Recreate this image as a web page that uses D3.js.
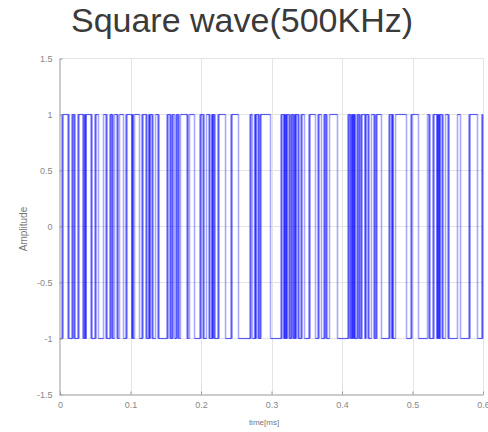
<!DOCTYPE html>
<html><head><meta charset="utf-8">
<script src="https://cdn.jsdelivr.net/npm/d3@7"></script>
<style>body{margin:0;background:#fff} svg{display:block}</style>
</head><body><svg id="c" width="488" height="432"></svg>
<script>
const title = "Square wave(500KHz)";
const xLabel = "time[ms]";
const yLabel = "Amplitude";
const xDomain = [0, 0.6];
const yDomain = [-1.5, 1.5];
const xTicks = [0, 0.1, 0.2, 0.3, 0.4, 0.5, 0.6];
const xTickLabels = ["0", "0.1", "0.2", "0.3", "0.4", "0.5", "0.6"];
const yTicks = [-1.5, -1, -0.5, 0, 0.5, 1, 1.5];
const yTickLabels = ["-1.5", "-1", "-0.5", "0", "0.5", "1", "1.5"];
const levels = [-1, 1];
const startLevel = -1;
// transition times (ms); each one flips the level
const edgeTimes = [
  0.0029, 0.0036, 0.0043, 0.0114, 0.0121, 0.0128, 0.0170, 0.0177, 0.0184,
  0.0199, 0.0206, 0.0213, 0.0255, 0.0262, 0.0269, 0.0326, 0.0333, 0.0340,
  0.0352, 0.0357, 0.0362, 0.0367, 0.0372, 0.0440, 0.0447, 0.0454,
  0.0497, 0.0504, 0.0511, 0.0546, 0.0617, 0.0653, 0.0660, 0.0667,
  0.0709, 0.0716, 0.0723, 0.0738, 0.0745, 0.0752, 0.0773, 0.0809, 0.0816, 0.0823,
  0.0844, 0.0901, 0.0936, 0.0943, 0.0950, 0.1018, 0.1023, 0.1028, 0.1033, 0.1038,
  0.1057, 0.1128, 0.1163, 0.1170, 0.1177, 0.1220, 0.1227, 0.1234,
  0.1260, 0.1265, 0.1270, 0.1275, 0.1280, 0.1305, 0.1312, 0.1319, 0.1355,
  0.1390, 0.1397, 0.1404, 0.1518, 0.1525, 0.1532, 0.1560, 0.1567, 0.1574,
  0.1589, 0.1596, 0.1603, 0.1624, 0.1646, 0.1653, 0.1660, 0.1674, 0.1681, 0.1688,
  0.1709, 0.1802, 0.1809, 0.1816, 0.1837, 0.1908, 0.1986, 0.1993, 0.2000,
  0.2029, 0.2036, 0.2043, 0.2078, 0.2114, 0.2121, 0.2128,
  0.2153, 0.2158, 0.2163, 0.2168, 0.2173, 0.2185, 0.2192, 0.2199,
  0.2241, 0.2248, 0.2255, 0.2348, 0.2426, 0.2433, 0.2440, 0.2532,
  0.2695, 0.2702, 0.2709, 0.2730, 0.2763, 0.2768, 0.2773, 0.2778, 0.2783,
  0.2809, 0.2816, 0.2823, 0.2837, 0.2844, 0.2851, 0.2986, 0.3135, 0.3142, 0.3149,
  0.3174, 0.3179, 0.3184, 0.3189, 0.3194, 0.3203, 0.3208, 0.3213, 0.3218, 0.3223,
  0.3248, 0.3255, 0.3262, 0.3277, 0.3284, 0.3291, 0.3305, 0.3312, 0.3319,
  0.3330, 0.3335, 0.3340, 0.3345, 0.3350, 0.3376, 0.3383, 0.3390,
  0.3419, 0.3426, 0.3433, 0.3468, 0.3532, 0.3539, 0.3546, 0.3624,
  0.3660, 0.3667, 0.3674, 0.3709, 0.3745, 0.3752, 0.3759, 0.3773, 0.3780, 0.3787,
  0.3823, 0.3936, 0.4085, 0.4092, 0.4099, 0.4114, 0.4121, 0.4128,
  0.4139, 0.4144, 0.4149, 0.4154, 0.4159, 0.4167, 0.4172, 0.4177, 0.4182, 0.4187,
  0.4213, 0.4220, 0.4227, 0.4241, 0.4248, 0.4255, 0.4270, 0.4277, 0.4284,
  0.4325, 0.4330, 0.4336, 0.4341, 0.4369, 0.4376, 0.4383, 0.4418,
  0.4454, 0.4461, 0.4468, 0.4482, 0.4489, 0.4496, 0.4560, 0.4667, 0.4674, 0.4681,
  0.4706, 0.4711, 0.4716, 0.4721, 0.4726, 0.4759, 0.4915, 0.4979, 0.4986, 0.4993,
  0.5085, 0.5213, 0.5234, 0.5241, 0.5248, 0.5291, 0.5298, 0.5305,
  0.5345, 0.5350, 0.5355, 0.5360, 0.5365, 0.5373, 0.5378, 0.5383, 0.5388, 0.5393,
  0.5419, 0.5426, 0.5433, 0.5468, 0.5504, 0.5511, 0.5518, 0.5638, 0.5681,
  0.5802, 0.5809, 0.5816, 0.5922, 0.5985, 0.5991, 0.5997
];

const svg = d3.select("#c");
const x = d3.scaleLinear().domain(xDomain).range([60, 483]);
const y = d3.scaleLinear().domain(yDomain).range([394.5, 58.5]);

// grid
svg.append("g").selectAll("line").data(xTicks.slice(1)).join("line")
  .attr("x1", d => Math.round(x(d)) + 0.5).attr("x2", d => Math.round(x(d)) + 0.5)
  .attr("y1", y(yDomain[0])).attr("y2", y(yDomain[1]))
  .attr("stroke", "#e4e4e4").attr("stroke-width", 1);
svg.append("g").selectAll("line").data(yTicks.slice(1)).join("line")
  .attr("x1", x(xDomain[0])).attr("x2", x(xDomain[1]))
  .attr("y1", d => y(d)).attr("y2", d => y(d))
  .attr("stroke", "#e4e4e4").attr("stroke-width", 1);

// build segments
const horiz = [], verts = [];
let lvl = startLevel, prev = xDomain[0];
edgeTimes.forEach(t => {
  horiz.push({t0: prev, t1: t, v: lvl});
  verts.push(t);
  lvl = -lvl; prev = t;
});
horiz.push({t0: prev, t1: xDomain[1], v: lvl});

const wave = svg.append("g");
wave.selectAll("line.h").data(horiz).join("line").attr("class", "h")
  .attr("x1", d => x(d.t0)).attr("x2", d => x(d.t1))
  .attr("y1", d => y(d.v)).attr("y2", d => y(d.v))
  .attr("stroke", "#0000ff").attr("stroke-opacity", 0.6).attr("stroke-width", 1.2);
wave.selectAll("line.v").data(verts).join("line").attr("class", "v")
  .attr("x1", d => x(d)).attr("x2", d => x(d))
  .attr("y1", y(levels[0])).attr("y2", y(levels[1]))
  .attr("stroke", "#0000ff").attr("stroke-opacity", 0.34).attr("stroke-width", 1.6);

// axes
const xAxis = d3.axisBottom(x).tickValues(xTicks).tickFormat((d, i) => xTickLabels[i])
  .tickSizeInner(-3).tickSizeOuter(0).tickPadding(7);
const yAxis = d3.axisLeft(y).tickValues(yTicks).tickFormat((d, i) => yTickLabels[i])
  .tickSizeInner(-3).tickSizeOuter(0).tickPadding(7);
const gx = svg.append("g").attr("transform", "translate(0,394.5)").call(xAxis);
const gy = svg.append("g").attr("transform", "translate(59.5,0)").call(yAxis);
[gx, gy].forEach(g => {
  g.select(".domain").attr("stroke", "#999");
  g.selectAll(".tick line").attr("stroke", "#999");
  g.selectAll("text").attr("font-family", "Liberation Sans, Arial, sans-serif")
    .attr("font-size", 9).attr("fill", "#888");
});

svg.append("text").attr("x", 242).attr("y", 32).attr("text-anchor", "middle")
  .attr("font-family", "Liberation Sans, Arial, sans-serif").attr("font-size", 34)
  .attr("fill", "#3a3a3a").text(title);
svg.append("text").attr("x", 264).attr("y", 425).attr("text-anchor", "middle")
  .attr("font-family", "Liberation Sans, Arial, sans-serif").attr("font-size", 8)
  .attr("fill", "#777").text(xLabel);
svg.append("text").attr("transform", "translate(27,229) rotate(-90)").attr("text-anchor", "middle")
  .attr("font-family", "Liberation Sans, Arial, sans-serif").attr("font-size", 10)
  .attr("fill", "#777").text(yLabel);
</script></body></html>
